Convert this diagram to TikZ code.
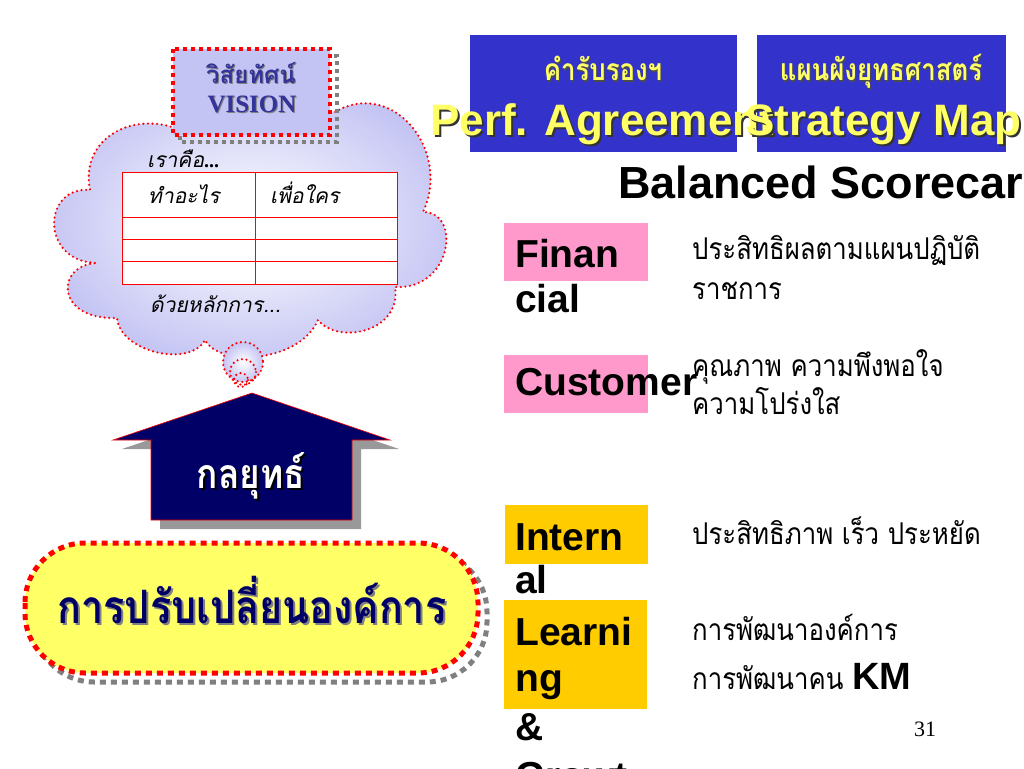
\documentclass[tikz,border=0pt]{standalone}
\usepackage{fontspec}
\setmainfont{Liberation Serif}
\newfontfamily\arial{Liberation Sans}
\newfontfamily\thai[Script=Thai]{Loma}
\newfontfamily\thainarrow[Script=Thai,FakeStretch=0.86]{Loma}
\newfontfamily\thaiit[Script=Thai,FakeSlant=0.2]{Loma}
\definecolor{lav}{HTML}{C4C4F4}
\definecolor{boxblue}{HTML}{3333CC}
\definecolor{navy}{HTML}{000066}
\definecolor{yel}{HTML}{FFFF66}
\definecolor{pinkc}{HTML}{FF99CC}
\definecolor{orng}{HTML}{FFCC00}
\definecolor{vblue}{HTML}{333399}
\definecolor{yeltxt}{HTML}{FFFF66}
\tikzset{
  dotline/.style={red, line width=2.4pt, dash pattern=on 0pt off 4.6pt, line cap=round},
  redsq/.style={red, line width=4pt, dash pattern=on 4pt off 4pt},
  shsq/.style={gray, line width=4pt, dash pattern=on 4pt off 4pt},
  lbl/.style={anchor=base west, inner sep=0pt},
  ctr/.style={anchor=base, inner sep=0pt},
  catlbl/.style={lbl, font=\arial\bfseries\fontsize{39}{44}\selectfont},
  thtxt/.style={lbl, font=\thainarrow\fontsize{30}{34}\selectfont},
  tabtxt/.style={lbl, font=\thaiit\fontsize{21}{24}\selectfont},
  hdth/.style={ctr, font=\thainarrow\bfseries\fontsize{30}{32}\selectfont},
  bigen/.style={lbl, font=\arial\bfseries\fontsize{44}{48}\selectfont},
}
\begin{document}
\begin{tikzpicture}[x=1pt,y=-1pt]
\useasboundingbox (0,0) rectangle (1024,768);
\fill[white] (0,0) rectangle (1024,768);

% ---------- cloud ----------
\def\cloudpath{(175,128) .. controls (130,112) and (80,140) .. (90,190)
  .. controls (42,186) and (40,262) .. (97,263)
  .. controls (55,265) and (55,320) .. (117,318)
  .. controls (120,352) and (190,368) .. (205,340)
  .. controls (220,368) and (300,362) .. (318,320)
  .. controls (338,345) and (402,332) .. (395,287)
  .. controls (452,290) and (462,212) .. (423,212)
  .. controls (452,150) and (392,78) .. (335,112) -- cycle}
\path[shade, inner color=white, outer color=lav] \cloudpath;
\draw[dotline] \cloudpath;
% thought bubbles
\path[shade, inner color=white, outer color=lav] (243,362) circle (20);
\draw[dotline] (243,362) circle (20);
\draw[dotline] (243,372) circle (13);
\draw[dotline] (241,380) circle (7);

% ---------- table ----------
\draw[red, fill=white, line width=0.8pt] (122,172) rectangle (397,284);
\draw[red, line width=0.8pt] (255,172) -- (255,284)
  (122,217) -- (397,217) (122,239) -- (397,239) (122,261) -- (397,261);
\node[tabtxt] (weare) at (147,167) {เราคือ\textbf{\fontsize{20}{22}\selectfont\rmfamily...}};
\node[tabtxt] (what) at (148,203) {ทำอะไร};
\node[tabtxt] (whom) at (270,203) {เพื่อใคร};
\node[tabtxt] (principle) at (150,312) {ด้วยหลักการ...};

% ---------- vision box ----------
\draw[shsq] (180,56) rectangle (337,142);
\draw[redsq, fill=lav] (173,49) rectangle (330,135);
\node[ctr, text=gray, font=\thai\bfseries\fontsize{24}{26}\selectfont] at (252,84) {วิสัยทัศน์};
\node[ctr, text=vblue, font=\thai\bfseries\fontsize{24}{26}\selectfont] (visth) at (251,83) {วิสัยทัศน์};
\node[ctr, text=gray, font=\bfseries\fontsize{25}{27}\selectfont] at (253,113) {VISION};
\node[ctr, text=vblue, font=\bfseries\fontsize{25}{27}\selectfont] (visen) at (252,112) {VISION};

% ---------- arrow ----------
\def\arrowpath{(252,393) -- (390,440) -- (352,440) -- (352,520) -- (151,520) -- (151,440) -- (113,440) -- cycle}
\fill[gray!80, shift={(9,9)}] \arrowpath;
\draw[red, fill=navy, line width=0.6pt] \arrowpath;
\node[ctr, text=black, font=\thainarrow\bfseries\fontsize{41}{46}\selectfont] at (253,490) {กลยุทธ์};
\node[ctr, text=white, font=\thainarrow\bfseries\fontsize{41}{46}\selectfont] (strat) at (251,488) {กลยุทธ์};

% ---------- yellow banner ----------
\draw[shsq, line width=5pt, dash pattern=on 6pt off 5pt, rounded corners=60pt] (34,552) rectangle (487,682);
\draw[red, line width=5pt, dash pattern=on 6pt off 5pt, fill=yel, rounded corners=60pt] (25,543) rectangle (478,673);
\node[ctr, text=gray, font=\thainarrow\bfseries\fontsize{46}{50}\selectfont] at (254,625) {การปรับเปลี่ยนองค์การ};
\node[ctr, text=navy, font=\thainarrow\bfseries\fontsize{46}{50}\selectfont] (change) at (252,623) {การปรับเปลี่ยนองค์การ};

% ---------- header boxes ----------
\fill[boxblue] (470,35) rectangle (737,152);
\fill[boxblue] (757,35) rectangle (1006,152);
\node[hdth, text=black!70] at (604,82) {คำรับรองฯ};
\node[hdth, text=yeltxt] (pa th) at (603,81) {คำรับรองฯ};
\node[hdth, text=black!70] at (882,82) {แผนผังยุทธศาสตร์};
\node[hdth, text=yeltxt] (sm th) at (881,81) {แผนผังยุทธศาสตร์};
\node[bigen, text=black!80] at (432,137) {Perf. Agreement};
\node[bigen, text=yeltxt] (pa) at (430,135) {Perf. Agreement};
\node[bigen, text=black!80] at (747,137) {Strategy Map};
\node[bigen, text=yeltxt] (sm) at (745,135) {Strategy Map};
\node[lbl, font=\arial\bfseries\fontsize{45}{50}\selectfont] (bsc) at (618,198) {Balanced Scorecar};

% ---------- perspectives ----------
\fill[pinkc] (504,223) rectangle (648,281);
\fill[pinkc] (504,355) rectangle (648,413);
\fill[orng] (505,505) rectangle (648,564);
\fill[orng] (504,600) rectangle (647,709);
\node[catlbl] (fin1) at (515,267) {Finan};
\node[catlbl] (fin2) at (515,312) {cial};
\node[catlbl] (cus) at (515,395) {Customer};
\node[catlbl] (int1) at (515,550) {Intern};
\node[catlbl] (int2) at (515,593) {al};
\node[catlbl] (lg1) at (515,645) {Learni};
\node[catlbl] (lg2) at (515,691) {ng};
\node[catlbl] (lg3) at (515,740) {\&};
\node[catlbl] (lg4) at (515,789) {Growt};

\node[thtxt] (d1a) at (692,259) {ประสิทธิผลตามแผนปฏิบัติ};
\node[thtxt] (d1b) at (692,299) {ราชการ};
\node[thtxt] (d2a) at (692,376) {คุณภาพ ความพึงพอใจ};
\node[thtxt] (d2b) at (692,414) {ความโปร่งใส};
\node[thtxt] (d3) at (692,544) {ประสิทธิภาพ เร็ว ประหยัด};
\node[thtxt] (d4a) at (692,640) {การพัฒนาองค์การ};
\node[thtxt] (d4b) at (692,689) {การพัฒนาคน \arial\bfseries\fontsize{38}{40}\selectfont KM};
\node[lbl, font=\fontsize{22}{24}\selectfont] (pg) at (914,736) {31};
\end{tikzpicture}
\end{document}
